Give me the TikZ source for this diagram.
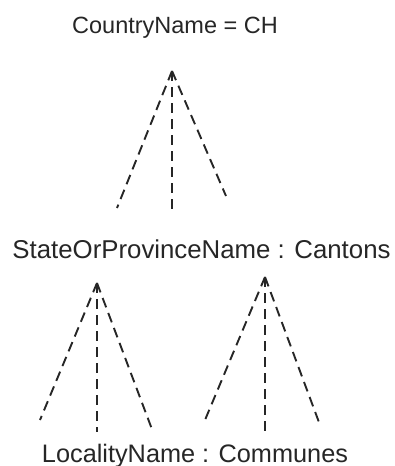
\documentclass[tikz,border=0pt]{standalone}
\usepackage{fontspec}
\setmainfont{Liberation Sans}
\begin{document}
\begin{tikzpicture}[x=1pt,y=-1pt,
  lbl/.style={inner sep=0pt,anchor=base,text=black!85},
  tree/.style={draw=black!85,line width=1.9pt,dash pattern=on 10pt off 6pt}]
\useasboundingbox (0,0) rectangle (395,466);
\node[lbl,font=\fontsize{23.5}{28}\selectfont] (country) at (175,33) {CountryName = CH};
\node[lbl,font=\fontsize{25.8}{30}\selectfont] (state) at (201.5,258) {StateOrProvinceName : Cantons};
\node[lbl,font=\fontsize{25.3}{30}\selectfont] (locality) at (195,462) {LocalityName : Communes};
% top tree
\coordinate (t0) at (172,71);
\coordinate (t1) at (117,208);
\coordinate (t2) at (172,209);
\coordinate (t3) at (226,196);
\draw[tree] (t0) -- (t1);
\draw[tree] (t0) -- (t2);
\draw[tree] (t0) -- (t3);
% lower left tree
\coordinate (l0) at (97,283);
\coordinate (l1) at (40,420);
\coordinate (l2) at (97,432);
\coordinate (l3) at (153,432);
\draw[tree] (l0) -- (l1);
\draw[tree] (l0) -- (l2);
\draw[tree] (l0) -- (l3);
% lower right tree
\coordinate (r0) at (265,277);
\coordinate (r1) at (205,420);
\coordinate (r2) at (265,432);
\coordinate (r3) at (320,425);
\draw[tree] (r0) -- (r1);
\draw[tree] (r0) -- (r2);
\draw[tree] (r0) -- (r3);
\end{tikzpicture}
\end{document}
